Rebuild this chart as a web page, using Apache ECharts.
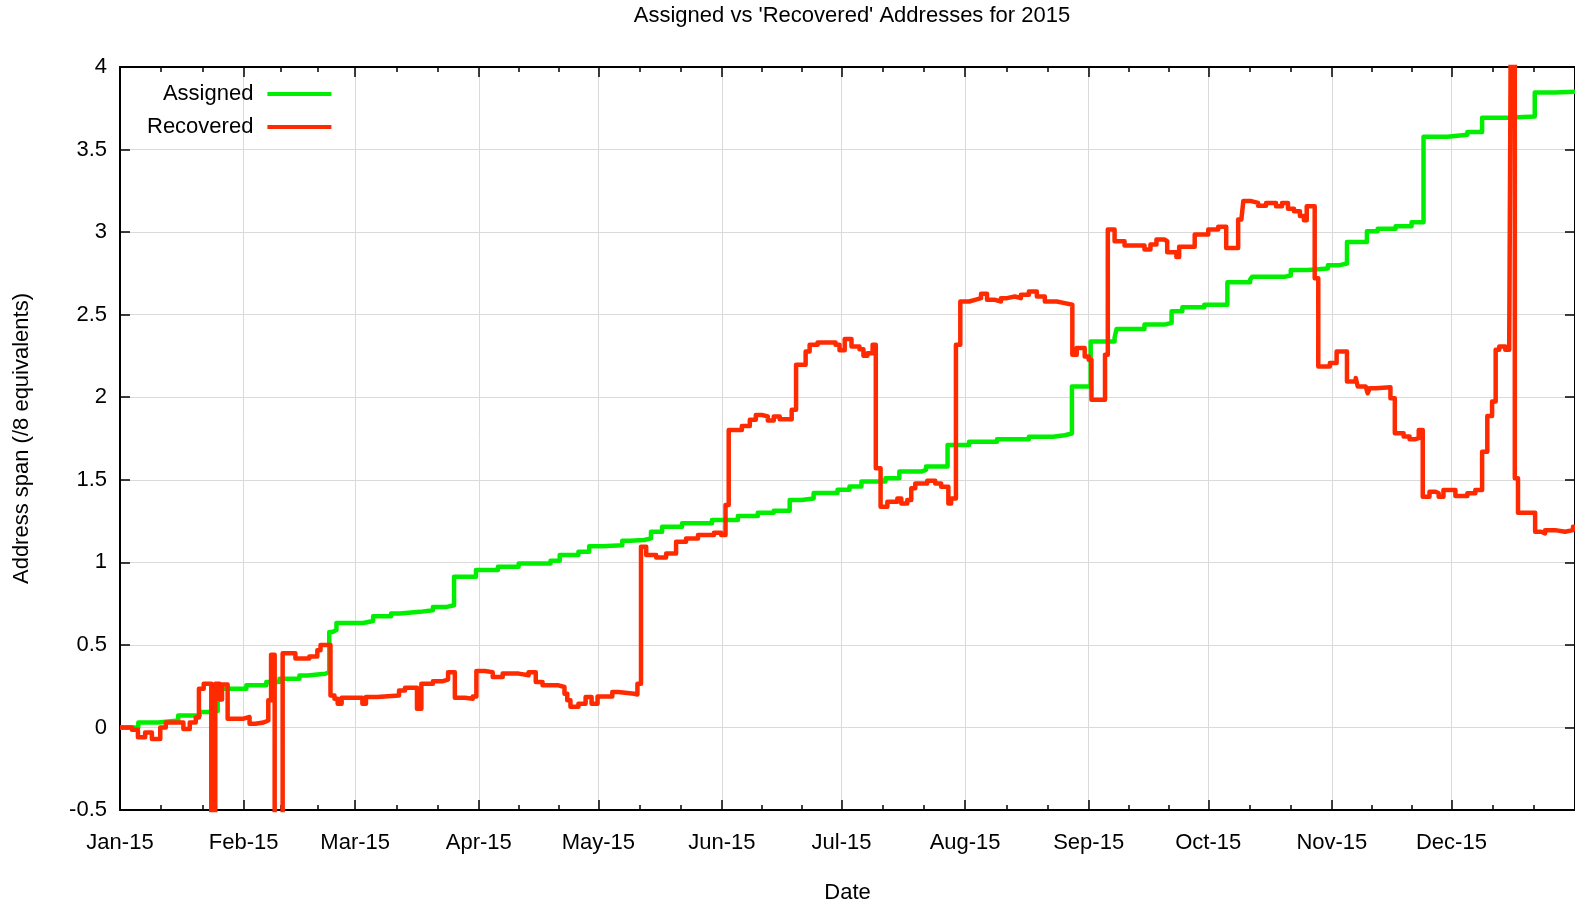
<!DOCTYPE html>
<html>
<head>
<meta charset="utf-8">
<title>Assigned vs Recovered Addresses 2015</title>
<script src="https://cdn.jsdelivr.net/npm/echarts@6/dist/echarts.min.js"></script>
<style>
  html, body { margin: 0; padding: 0; background: #fff; }
  #chart { width: 1575px; height: 903px; }
</style>
</head>
<body>
<div id="chart"></div>
<script>
// day of year (0 = 1 Jan 2015) where each step starts, and the value it holds
const assignedDay = [
  0, 4.6, 9.6, 14.6, 20, 22.5, 24.5, 31.7, 36.7, 40, 45, 47, 51.5, 52.5, 53.3, 54.3,
  61, 63.5, 68, 70.2, 75.2, 78.5, 82, 83.8, 89.3, 94.8, 100, 108, 110.3, 115, 117.7,
  121, 126, 128, 131.5, 133.2, 136, 141, 148.5, 155, 160, 164, 168, 171, 174, 180,
  183, 186, 192, 195.5, 201, 202.2, 207.6, 213, 220, 228, 234, 237, 238.8, 243.5,
  249.5, 250, 257, 262, 263.8, 266.5, 272, 277.8, 283.5, 284, 292, 293.7, 298, 303,
  306, 307.8, 312.8, 315.5, 320, 324, 327, 333, 338, 341.7, 348, 354.9, 360, 365
]
const assignedVal = [
  0, 0.03, 0.042, 0.073, 0.093, 0.10, 0.235, 0.255, 0.275, 0.295, 0.315, 0.325, 0.335, 0.578, 0.59, 0.633,
  0.645, 0.673, 0.69, 0.70, 0.71, 0.73, 0.74, 0.912, 0.953, 0.973, 0.993, 1.009, 1.044, 1.064, 1.098,
  1.104, 1.13, 1.135, 1.145, 1.185, 1.215, 1.236, 1.256, 1.28, 1.30, 1.313, 1.377, 1.387, 1.42, 1.44,
  1.46, 1.49, 1.51, 1.55, 1.56, 1.58, 1.71, 1.73, 1.746, 1.76, 1.77, 1.78, 2.065, 2.338,
  2.36, 2.413, 2.44, 2.45, 2.52, 2.545, 2.56, 2.696, 2.712, 2.729, 2.737, 2.77, 2.78, 2.80,
  2.81, 2.94, 3.005, 3.02, 3.035, 3.06, 3.578, 3.59, 3.606, 3.693, 3.70, 3.845, 3.85, 3.855
]

const recoveredDay = [
  0, 3, 4.5, 6.3, 8, 10.1, 11.5, 15.9, 17.5, 19, 19.8, 21, 22.9, 23.9, 25, 25.6, 27,
  31, 32.5, 34, 36, 37.2, 37.9, 38.8, 40.8, 44, 47.5, 49.5, 50.3, 52.8, 53.8, 54.6, 55.6,
  60.8, 61.7, 64.5, 70, 71.5, 74.5, 75.6, 78.5, 81, 82.3, 84, 86.5, 88.5, 89.4, 91.5, 93.5,
  96, 100, 102.5, 104.3, 106, 110, 111.5, 112.2, 113, 115, 116.8, 118.3, 119.8, 123.5, 125,
  129, 129.8, 130.7, 132, 134.5, 137, 139.5, 142, 145, 149, 150.8, 151.9, 152.7, 156, 158,
  159.5, 161, 162.5, 164, 165.5, 168.5, 169.6, 172, 173, 175, 179.5, 180.5, 181.8, 183.5,
  185.5, 186.5, 187.5, 188.8, 189.6, 190.8, 192.5, 195, 196, 197.5, 198.5, 199.5, 202.5,
  204.5, 206, 207.8, 208.5, 209.7, 210.8, 213, 214.5, 216, 217.5, 219.5, 221, 222.5, 224.5,
  226, 228, 230, 232, 235, 237, 238.9, 240, 242, 243, 243.7, 247.1, 247.8, 249.5, 252, 257,
  258.5, 260, 262, 262.7, 265, 265.7, 269.6, 273, 275.5, 277.5, 280.5, 281.3, 281.8, 283.8,
  285.5, 287.5, 290, 291.5, 293, 294.5, 296, 297, 297.7, 299.7, 300.6, 303.5, 305.2, 307.8,
  310, 310.5, 312.5, 313, 313.5, 315, 318.7, 319.8, 322, 323.5, 325, 325.8, 326.8, 328.5,
  330, 330.8, 332, 335, 338, 340, 341.7, 343, 344.2, 345.1, 346, 347.5, 348.5, 349.0, 349.9,
  350.7, 355, 356.5, 357.5, 360, 362.5, 364.5, 365
]
const recoveredVal = [
  0, -0.014, -0.06, -0.03, -0.07, 0, 0.03, -0.01, 0.03, 0.06, 0.235, 0.265, -0.9, 0.265, 0.17, 0.26, 0.053,
  0.063, 0.022, 0.03, 0.042, 0.164, 0.44, -0.9, 0.45, 0.417, 0.43, 0.467, 0.50, 0.194, 0.174, 0.144, 0.18,
  0.144, 0.184, 0.194, 0.224, 0.24, 0.113, 0.265, 0.28, 0.29, 0.335, 0.18, 0.174, 0.188, 0.342, 0.335, 0.305,
  0.326, 0.316, 0.335, 0.275, 0.255, 0.245, 0.204, 0.164, 0.125, 0.144, 0.184, 0.144, 0.188, 0.214, 0.204,
  0.2, 0.265, 1.094, 1.044, 1.03, 1.054, 1.124, 1.145, 1.165, 1.179, 1.165, 1.347, 1.802, 1.826, 1.863,
  1.893, 1.883, 1.859, 1.883, 1.866, 1.924, 2.197, 2.277, 2.318, 2.332, 2.318, 2.284, 2.353, 2.307,
  2.29, 2.251, 2.267, 2.318, 1.57, 1.337, 1.367, 1.387, 1.357, 1.377, 1.448, 1.478, 1.494,
  1.478, 1.458, 1.357, 1.387, 2.318, 2.58, 2.59, 2.60, 2.627, 2.59, 2.58, 2.60, 2.61, 2.60,
  2.62, 2.64, 2.61, 2.58, 2.57, 2.56, 2.257, 2.298, 2.247, 2.227, 1.984, 2.257, 3.016, 2.945, 2.919, 2.894,
  2.925, 2.955, 2.945, 2.878, 2.85, 2.911, 2.985, 3.016, 3.032, 2.904, 3.076, 3.086, 3.188, 3.177,
  3.16, 3.177, 3.157, 3.177, 3.141, 3.127, 3.097, 3.072, 3.157, 2.72, 2.186, 2.207, 2.277, 2.095,
  2.116, 2.065, 2.055, 2.024, 2.055, 2.061, 1.994, 1.782, 1.762, 1.746, 1.752, 1.802, 1.397, 1.428,
  1.418, 1.397, 1.438, 1.402, 1.418, 1.438, 1.67, 1.887, 1.974, 2.288, 2.307, 2.288, 2.312, 4.8, 1.509,
  1.30, 1.185, 1.175, 1.195, 1.185, 1.195, 1.215, 1.215
]

const monthLabels = ['Jan-15', 'Feb-15', 'Mar-15', 'Apr-15', 'May-15', 'Jun-15',
  'Jul-15', 'Aug-15', 'Sep-15', 'Oct-15', 'Nov-15', 'Dec-15']

const DAY0 = Date.UTC(2015, 0, 1)
const DAY_MS = 86400000
const toPoints = (days, vals) => days.map((d, i) => [DAY0 + d * DAY_MS, vals[i]])

const FONT = 'Liberation Sans, Arial, Helvetica, sans-serif'
const chart = echarts.init(document.getElementById('chart'))

const xCommon = {
  type: 'time',
  min: DAY0,
  max: Date.UTC(2016, 0, 1),
  splitNumber: 12,
  minInterval: 28 * DAY_MS,
  maxInterval: 31 * DAY_MS,
  axisLine: { show: true, onZero: false, lineStyle: { color: '#000', width: 2 } },
  axisTick: { show: true, inside: true, length: 10, lineStyle: { color: '#000', width: 1.5 } },
  minorTick: { show: true, splitNumber: 3, length: 5, lineStyle: { color: '#000', width: 1.5 } }
}

chart.setOption({
  animation: false,
  useUTC: true,
  title: {
    text: "Assigned vs 'Recovered' Addresses for 2015",
    left: 847,
    textAlign: 'center',
    top: 0,
    textStyle: { fontFamily: FONT, fontSize: 22, fontWeight: 'normal', color: '#000' }
  },
  legend: {
    orient: 'vertical',
    align: 'right',
    left: 142,
    top: 78,
    itemGap: 11,
    itemWidth: 64,
    itemHeight: 4,
    data: [
      { name: 'Assigned', icon: 'rect' },
      { name: 'Recovered', icon: 'rect' }
    ],
    textStyle: { fontFamily: FONT, fontSize: 22, color: '#000', padding: [0, 9, 0, 0] }
  },
  // v6 would shrink the grid to keep the axis name inside; keep the fixed box
  grid: { left: 120, right: 0, top: 67, bottom: 93, containLabel: false, outerBoundsMode: 'none' },
  xAxis: [
    Object.assign({}, xCommon, {
      position: 'bottom',
      name: 'Date',
      nameLocation: 'middle',
      nameGap: 72,
      nameTextStyle: { fontFamily: FONT, fontSize: 22, color: '#000' },
      axisLabel: {
        margin: 22,
        fontFamily: FONT,
        fontSize: 22,
        color: '#000',
        formatter: (val) => {
          const d = new Date(val)
          return d.getUTCFullYear() === 2015 ? monthLabels[d.getUTCMonth()] : ''
        }
      },
      splitLine: { show: true, lineStyle: { color: '#dadada', width: 1 } }
    }),
    Object.assign({}, xCommon, {
      position: 'top',
      axisLabel: { show: false },
      splitLine: { show: false }
    })
  ],
  yAxis: [
    {
      type: 'value',
      position: 'left',
      min: -0.5,
      max: 4,
      interval: 0.5,
      name: 'Address span (/8 equivalents)',
      nameLocation: 'middle',
      nameGap: 87,
      nameTextStyle: { fontFamily: FONT, fontSize: 22, color: '#000' },
      axisLine: { show: true, onZero: false, lineStyle: { color: '#000', width: 2 } },
      axisTick: { show: true, inside: true, length: 10, lineStyle: { color: '#000', width: 1.5 } },
      axisLabel: { margin: 13, fontFamily: FONT, fontSize: 22, color: '#000' },
      splitLine: { show: true, lineStyle: { color: '#dadada', width: 1 } }
    },
    {
      type: 'value',
      position: 'right',
      min: -0.5,
      max: 4,
      interval: 0.5,
      axisLine: { show: true, onZero: false, lineStyle: { color: '#000', width: 2 } },
      axisTick: { show: true, inside: true, length: 10, lineStyle: { color: '#000', width: 1.5 } },
      axisLabel: { show: false },
      splitLine: { show: false }
    }
  ],
  series: [
    {
      name: 'Assigned',
      type: 'line',
      step: 'end',
      showSymbol: false,
      symbol: 'none',
      data: toPoints(assignedDay, assignedVal),
      lineStyle: { color: '#00ee00', width: 4.5, join: 'round' },
      itemStyle: { color: '#00ee00' }
    },
    {
      name: 'Recovered',
      type: 'line',
      step: 'end',
      showSymbol: false,
      symbol: 'none',
      data: toPoints(recoveredDay, recoveredVal),
      lineStyle: { color: '#ff2a00', width: 4.5, join: 'round' },
      itemStyle: { color: '#ff2a00' }
    }
  ]
})
</script>
</body>
</html>
